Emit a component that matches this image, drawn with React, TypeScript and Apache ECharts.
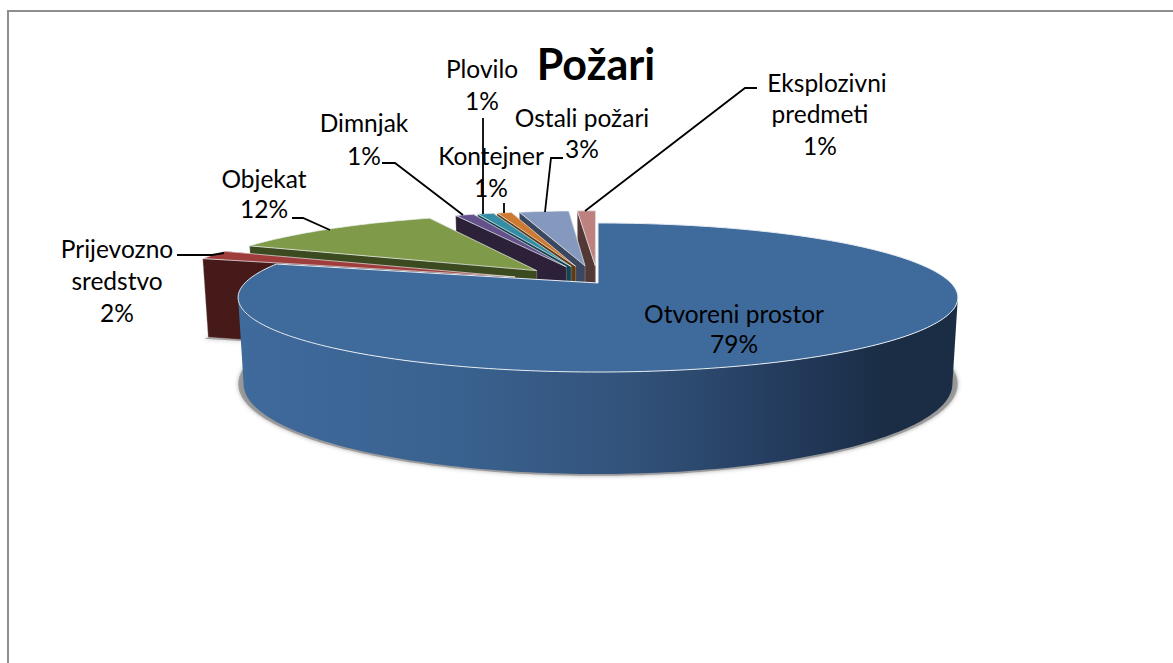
import React, { useEffect, useRef } from "react";
import * as echarts from "echarts";

const title = "Požari";
const categories = ["Otvoreni prostor", "Prijevozno sredstvo", "Objekat", "Dimnjak", "Plovilo", "Kontejner", "Ostali požari", "Eksplozivni predmeti"];
const shares = [79.45, 2.0, 11.95, 1.03, 0.89, 0.81, 2.78, 1.03];
const percentLabels = ["79%", "2%", "12%", "1%", "1%", "1%", "3%", "1%"];

const topColors = ["#3F6A9C", "#9E3D3B", "#7F9A48", "#64508A", "#348DA5", "#CE7A33", "#8599BF", "#BD8280"];
const wallColors = ["#3F6A9C", "#451A18", "#3C4A20", "#2C2138", "#134652", "#5F3A14", "#3A475F", "#533836"];

// per-line label centres, one entry per text line (name lines then percent)
const labelLines: [string, number, number][][] = [
  [["Otvoreni prostor", 734, 313], ["79%", 734, 343]],
  [["Prijevozno", 117, 248], ["sredstvo", 117, 280], ["2%", 117, 312]],
  [["Objekat", 264, 178], ["12%", 264, 208]],
  [["Dimnjak", 364, 122], ["1%", 364, 155]],
  [["Plovilo", 482, 68], ["1%", 482, 100]],
  [["Kontejner", 491, 155], ["1%", 491, 187]],
  [["Ostali požari", 582, 117], ["3%", 582, 148]],
  [["Eksplozivni", 827, 82], ["predmeti", 820, 113], ["1%", 820, 145]],
];
const leaders: number[][][] = [
  [],
  [[177, 255], [212, 255], [224, 253]],
  [[292, 218], [303, 218], [330, 230]],
  [[382, 163], [395, 163], [463, 215]],
  [[483, 118], [483, 214]],
  [[504, 203], [504, 213]],
  [[563, 158], [551, 158], [545, 212]],
  [[757, 88], [745, 88], [585, 211]],
];

const FONT = "Lato, Carlito, Calibri, sans-serif";
// projection of the tilted disc
const CX = 598, CY = 283, A = 353, B = 71.7, H = 85, P = 0.1946, Q = 0.015;
const EXPLODE = 0.254;
const total = shares.reduce((a, b) => a + b, 0);
// angles where the outer wall turns from facing the viewer to facing away
const FRONT_START = Math.acos(-P);
const FRONT_END = Math.PI * 2 - FRONT_START;

function proj(u: number, v: number, z: number): number[] {
  const w = 1 - P * v + Q * z;
  return [CX + (A * u) / w, CY + (B * v + H * z) / w];
}

function sliceRange(i: number) {
  let acc = 0;
  for (let k = 0; k < i; k++) acc += shares[k];
  const a0 = (acc / total) * Math.PI * 2;
  const a1 = ((acc + shares[i]) / total) * Math.PI * 2;
  return [a0, a1];
}

function arc(a0: number, a1: number, ou: number, ov: number, z: number, step = 0.02) {
  const n = Math.max(2, Math.ceil((a1 - a0) / step));
  const pts: number[][] = [];
  for (let k = 0; k <= n; k++) {
    const t = a0 + ((a1 - a0) * k) / n;
    pts.push(proj(ou + Math.sin(t), ov - Math.cos(t), z));
  }
  return pts;
}

function renderSlice(params: any, api: any) {
  const i = params.dataIndex;
  void api.value(0);
  const [a0, a1] = sliceRange(i);
  const mid = (a0 + a1) / 2;
  const ex = i === 0 ? 0 : EXPLODE;
  const ou = ex * Math.sin(mid);
  const ov = -ex * Math.cos(mid);
  const base = i === 0 ? 90 : (8 - i) * 10; // rear slices are painted first
  const topPts = arc(a0, a1, ou, ov, 0);
  const botPts = arc(a0, a1, ou, ov, 1);
  const apexT = proj(ou, ov, 0);
  const apexB = proj(ou, ov, 1);
  const edge = i === 0
    ? { stroke: "#E6ECF1", lineWidth: 1 }
    : { stroke: "rgba(235,238,240,0.85)", lineWidth: 0.8 };
  const children: any[] = [];
  const wallFill: any =
    i === 0
      ? new echarts.graphic.LinearGradient(238, 0, 958, 0, [
          { offset: 0, color: "#3F6A9C" },
          { offset: 0.3, color: "#3A6290" },
          { offset: 0.55, color: "#32527A" },
          { offset: 0.78, color: "#22395A" },
          { offset: 0.9, color: "#1A2D45" },
          { offset: 1, color: "#1A2D45" },
        ], true)
      : wallColors[i];

  const shadowStyle = { fill: "rgba(140,140,140,0.75)", shadowBlur: 4, shadowColor: "rgba(120,120,120,0.8)" };
  if (i === 0) {
    // soft shadow round the foot of the front wall, widest at the two sides
    const sh = arc(FRONT_START - 0.2, FRONT_END + 0.2, 0, 0, 1);
    children.push({
      type: "polygon",
      z2: base - 2,
      shape: { points: sh.map((p) => [CX + (p[0] - CX) * 1.015, 384 + (p[1] - 384) * 1.02]) },
      style: shadowStyle,
      silent: true,
    });
  }
  if (i === 1) {
    children.push({
      type: "polygon",
      z2: base - 2,
      shape: { points: [botPts[0], apexB, [botPts[0][0] - 4, botPts[0][1] + 1.5]] },
      style: shadowStyle,
      silent: true,
    });
  }
  const wall = (points: number[][], k: number, fill: any, withEdge = false) => ({
    type: "polygon",
    z2: base + k,
    shape: { points },
    style: { fill, ...(withEdge ? { stroke: "rgba(200,200,200,0.55)", lineWidth: 0.6 } : {}) },
  });
  children.push(wall([apexT, topPts[topPts.length - 1], botPts[botPts.length - 1], apexB], 0, wallFill));
  const f0 = Math.max(a0, FRONT_START);
  const f1 = Math.min(a1, FRONT_END);
  if (f1 > f0) {
    const frontTop = arc(f0, f1, ou, ov, 0);
    const frontBot = arc(f0, f1, ou, ov, 1);
    children.push(wall([...frontTop, ...frontBot.reverse()], 1, wallFill));
  }
  children.push(wall([apexT, topPts[0], botPts[0], apexB], 2, wallFill, i !== 0));
  children.push({
    type: "polygon",
    z2: base + 3,
    shape: { points: [apexT, ...topPts] },
    style: { fill: topColors[i], ...edge },
  });
  return { type: "group", children };
}

export default function App() {
  const ref = useRef<HTMLDivElement>(null);
  useEffect(() => {
    document.body.style.margin = "0";
    const chart = echarts.init(ref.current!, null, { renderer: "svg" });
    const graphic: any[] = [
      {
        type: "rect",
        z: 0,
        shape: { x: 8, y: 11, width: 1400, height: 900 },
        style: { fill: "#fff", stroke: "#8E8E8E", lineWidth: 2 },
        silent: true,
      },
      {
        type: "text",
        z: 20,
        x: 596,
        y: 63,
        style: { text: title, fill: "#000", font: `bold 43px ${FONT}`, align: "center", verticalAlign: "middle" },
      },
    ];
    leaders.forEach((pts) => {
      if (pts.length)
        graphic.push({
          type: "polyline",
          z: 20,
          shape: { points: pts },
          style: { stroke: "#000", lineWidth: 1.8, fill: "none" },
        });
    });
    labelLines.forEach((lines) =>
      lines.forEach(([t, x, y]) =>
        graphic.push({
          type: "text",
          z: 21,
          x,
          y,
          style: { text: t, fill: "#000", font: `24.5px ${FONT}`, align: "center", verticalAlign: "middle" },
        })
      )
    );
    chart.setOption({
      animation: false,
      backgroundColor: "#fff",
      tooltip: { show: false },
      graphic,
      series: [
        {
          type: "custom",
          coordinateSystem: "none",
          z: 10,
          silent: true,
          renderItem: renderSlice,
          data: shares.map((s, i) => ({ name: categories[i], value: [s], label: percentLabels[i] })),
        },
      ],
    });
    return () => chart.dispose();
  }, []);
  return <div ref={ref} style={{ width: 1173, height: 663 }} />;
}
